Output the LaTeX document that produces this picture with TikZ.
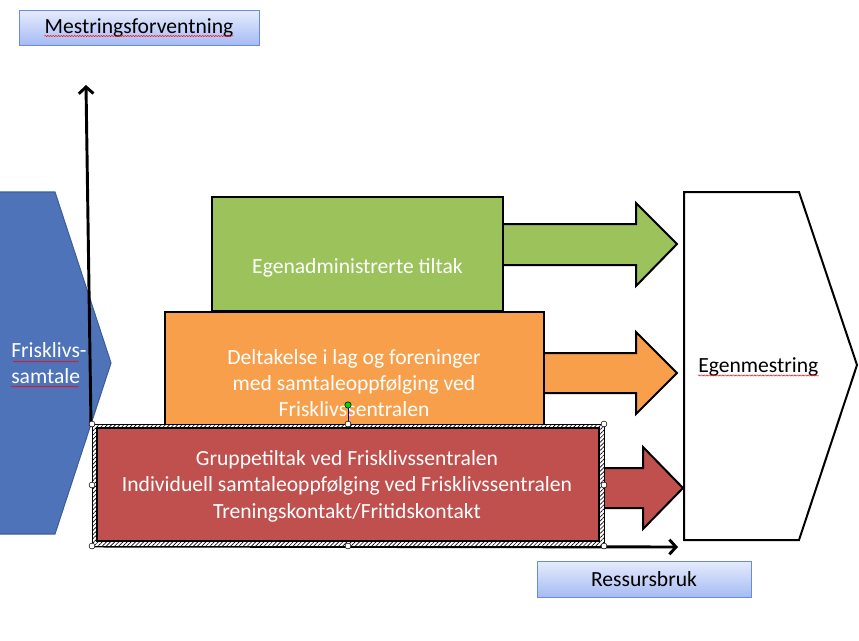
\documentclass[tikz,border=0pt]{standalone}
\usepackage{fontspec}
\setmainfont{Carlito}
\usetikzlibrary{arrows.meta,patterns.meta,shadows,decorations.pathmorphing}
\definecolor{cblue}{HTML}{4F73B9}
\definecolor{cbluedark}{HTML}{3D5E9C}
\definecolor{cgreen}{HTML}{9BC25B}
\definecolor{corange}{HTML}{F79F4B}
\definecolor{cred}{HTML}{C0504D}
\definecolor{lbtop}{HTML}{E6ECFD}
\definecolor{lbbot}{HTML}{A6BBF3}
\definecolor{lbdraw}{HTML}{6A8BD6}
\begin{document}
\begin{tikzpicture}[x=0.75pt,y=-0.75pt,
  txt/.style={font=\fontsize{16.2}{19.8}\selectfont, inner sep=0pt},
  wtxt/.style={txt,text=white,align=center},
  blk/.style={draw=black,line width=1.5pt},
  lbl/.style={draw=lbdraw,line width=0.6pt,top color=lbtop,bottom color=lbbot,
    inner sep=0pt,drop shadow={shadow xshift=0.8pt,shadow yshift=-0.8pt,opacity=0.35}},
  squig/.style={draw=red,line width=0.35pt,decorate,
    decoration={snake,amplitude=0.45pt,segment length=2pt}},
  axis/.style={line width=2.2pt,-{Straight Barb[length=5pt,width=11pt,line width=2.2pt]}},
  handle/.style={draw=black,fill=white,line width=0.4pt}]
\useasboundingbox (0,0) rectangle (859,640);

% label boxes
\node[lbl,minimum width=180pt,minimum height=26.25pt] (mf) at (139,27.5) {};
\node[txt] (mft) at (mf.center) {Mestringsforventning};
\draw[squig] ([yshift=-2.2pt]mft.base west) -- ([yshift=-2.2pt]mft.base east);

\node[lbl,minimum width=160.5pt,minimum height=27pt] (rb) at (644,579) {};
\node[txt] (rbt) at (rb.center) {Ressursbruk};

% blue chevron
\draw[fill=cblue,draw=cbluedark,line width=0.8pt]
  (-3,192) -- (55,192) -- (111,363) -- (55,534) -- (-3,534) -- cycle;
\node[txt,text=white,align=left,anchor=west] (fs) at (11,363) {Frisklivs-\\samtale};
\draw[squig] ([yshift=-2.2pt]fs.base west) -- ([xshift=-6pt,yshift=-2.2pt]fs.base east);
\draw[squig] ([xshift=1.5pt,yshift=16.6pt]fs.base west) -- ([xshift=-6pt,yshift=16.6pt]fs.base east);

% Egenmestring pentagon
\draw[blk,fill=white] (684,192) -- (799,192) -- (857,365) -- (799,540) -- (684,540) -- cycle;
\node[txt,anchor=west] (em) at (698,367) {Egenmestring};
\draw[squig] ([yshift=-2.2pt]em.base west) -- ([yshift=-2.2pt]em.base east);

% axes
\coordinate (vb) at (91,425);
\coordinate (vt) at (86,85);
\draw[axis] (vb) -- (vt);
\coordinate (hb) at (92,546);
\coordinate (he) at (678,547);
\draw[axis] (hb) -- (he);

% green
\draw[blk,fill=cgreen] (500,224) -- (636,224) -- (636,203) -- (677,244) -- (636,286) -- (636,265) -- (500,265) -- cycle;
\draw[blk,fill=cgreen] (212,197) rectangle (503,311);
\node[wtxt] (g) at (357.5,268) {Egenadministrerte tiltak};

% orange
\draw[blk,fill=corange] (540,353) -- (636,353) -- (636,332) -- (677,373) -- (636,414) -- (636,393) -- (540,393) -- cycle;
\draw[blk,fill=corange] (165,312) rectangle (544,432);
\node[wtxt] (o) at (354,383) {Deltakelse i lag og foreninger\\med samtaleoppfølging ved\\Frisklivssentralen};

% red
\draw[blk,fill=cred] (595,468) -- (643,468) -- (643,447) -- (683,488) -- (643,529) -- (643,508) -- (595,508) -- cycle;
\fill[white] (92,424) rectangle (604,546);
\fill[pattern={Lines[angle=45,distance=2.2pt,line width=0.5pt]},pattern color=black,even odd rule]
  (92,424) rectangle (604,546) (97,429) rectangle (599,541);
\draw[black,line width=0.3pt] (92,424) rectangle (604,546);
\node[blk,fill=cred,minimum width=376.5pt,minimum height=84.75pt,inner sep=0pt] (r) at (348,484.5) {};
\node[wtxt] (rt) at (347,486) {Gruppetiltak ved Frisklivssentralen\\Individuell samtaleoppfølging ved Frisklivssentralen\\Treningskontakt/Fritidskontakt};

% selection handles
\draw[blue!70!black,line width=0.5pt] (348,407) -- (348,424);
\foreach \p in {(92,424),(348,424),(604,424),(92,485),(604,485),(92,546),(348,546),(604,546)}
  \draw[handle] \p circle (2.2pt);
\draw[draw=black,fill=green!85!black,line width=0.4pt] (348,405) circle (2.4pt);
\end{tikzpicture}
\end{document}
